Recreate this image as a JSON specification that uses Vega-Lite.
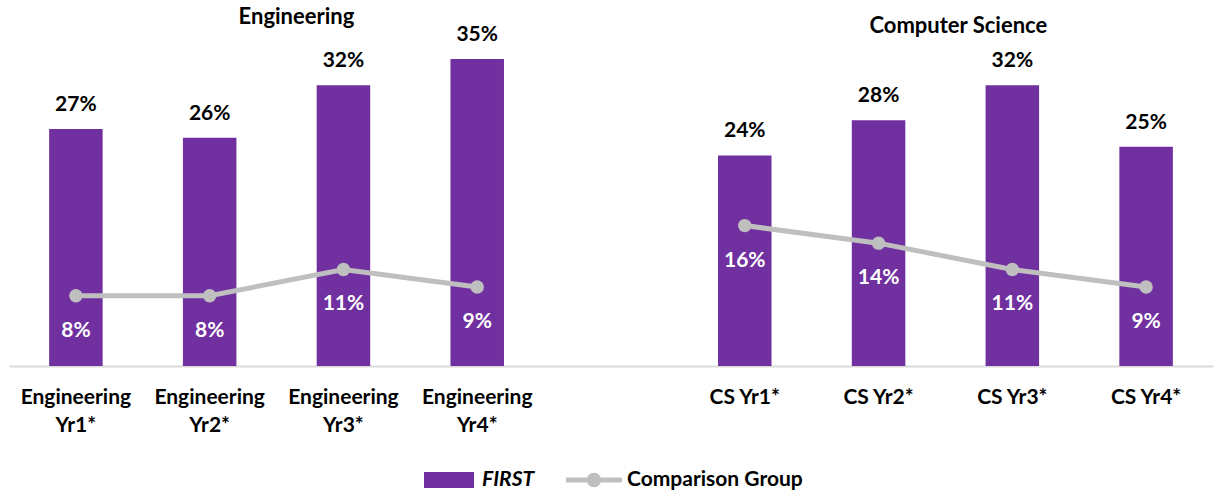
{
  "$schema": "https://vega.github.io/schema/vega-lite/v6.json",
  "width": 1204,
  "height": 351,
  "autosize": "none",
  "padding": {"left": 9, "top": 15, "right": 2, "bottom": 126},
  "config": {"font": "Lato", "view": {"stroke": null}},
  "data": {
    "values": [
      {"cat": "Engineering Yr1*", "group": "Engineering", "first": 0.27, "comp": 0.08},
      {"cat": "Engineering Yr2*", "group": "Engineering", "first": 0.26, "comp": 0.08},
      {"cat": "Engineering Yr3*", "group": "Engineering", "first": 0.32, "comp": 0.11},
      {"cat": "Engineering Yr4*", "group": "Engineering", "first": 0.35, "comp": 0.09},
      {"cat": "CS Yr1*", "group": "Computer Science", "first": 0.24, "comp": 0.16},
      {"cat": "CS Yr2*", "group": "Computer Science", "first": 0.28, "comp": 0.14},
      {"cat": "CS Yr3*", "group": "Computer Science", "first": 0.32, "comp": 0.11},
      {"cat": "CS Yr4*", "group": "Computer Science", "first": 0.25, "comp": 0.09}
    ]
  },
  "encoding": {
    "x": {
      "field": "cat",
      "type": "ordinal",
      "scale": {
        "domain": ["Engineering Yr1*", "Engineering Yr2*", "Engineering Yr3*", "Engineering Yr4*", "gap", "CS Yr1*", "CS Yr2*", "CS Yr3*", "CS Yr4*"],
        "paddingInner": 0.6,
        "paddingOuter": 0.3
      },
      "axis": {
        "title": null,
        "domainColor": "#D9D9D9",
        "domainWidth": 2,
        "ticks": false,
        "labelAngle": 0,
        "labelFont": "Lato",
        "labelFontSize": 21,
        "labelFontWeight": "bold",
        "labelColor": "black",
        "labelPadding": 20,
        "labelLineHeight": 28,
        "labelBaseline": "top",
        "labelLimit": 300,
        "labelExpr": "datum.value == 'gap' ? '' : (indexof(datum.value, 'Engineering ') == 0 ? split(datum.value, ' ') : datum.value)"
      }
    }
  },
  "layer": [
    {
      "mark": {"type": "bar"},
      "encoding": {
        "y": {"field": "first", "type": "quantitative", "scale": {"domain": [0, 0.4]}, "axis": null},
        "color": {
          "datum": "FIRST",
          "type": "nominal",
          "scale": {"domain": ["FIRST", "Comparison Group"], "range": ["#7030A0", "#BFBFBF"]},
          "legend": {
            "title": null,
            "orient": "none",
            "legendX": 415,
            "legendY": 440,
            "direction": "horizontal",
            "symbolSize": 2500,
            "symbolStrokeWidth": 0,
            "labelFont": "Lato",
            "labelFontSize": 21,
            "labelFontWeight": "bold",
            "labelColor": "black",
            "labelOffset": 8,
            "labelLimit": 400,
            "columnPadding": 30,
            "padding": 0,
            "encode": {
              "symbols": {
                "update": {
                  "shape": {"signal": "datum.value === 'FIRST' ? 'M-1,-0.32H1V0.32H-1Z' : 'M-1.12,-0.1H1.12V0.1H-1.12Z M-0.29,0 A0.29,0.29 0 1,1 0.29,0 A0.29,0.29 0 1,1 -0.29,0 Z'"},
                  "fill": {"signal": "scale('color', datum.value)"},
                  "opacity": {"value": 1}
                }
              },
              "labels": {
                "update": {
                  "fontStyle": {"signal": "datum.value === 'FIRST' ? 'italic' : 'normal'"}
                }
              }
            }
          }
        }
      }
    },
    {
      "mark": {"type": "text", "font": "Lato", "fontSize": 21, "fontWeight": "bold", "color": "black", "baseline": "alphabetic", "dy": -18},
      "encoding": {
        "y": {"field": "first", "type": "quantitative"},
        "text": {"field": "first", "type": "quantitative", "format": ".0%"}
      }
    },
    {
      "mark": {"type": "line", "color": "#BFBFBF", "strokeWidth": 5},
      "encoding": {
        "y": {"field": "comp", "type": "quantitative"},
        "detail": {"field": "group"}
      }
    },
    {
      "mark": {"type": "point", "filled": true, "color": "#BFBFBF", "opacity": 1, "size": 180},
      "encoding": {
        "y": {"field": "comp", "type": "quantitative"}
      }
    },
    {
      "mark": {"type": "text", "font": "Lato", "fontSize": 21, "fontWeight": "bold", "color": "white", "baseline": "alphabetic", "dy": 41},
      "encoding": {
        "y": {"field": "comp", "type": "quantitative"},
        "text": {"field": "comp", "type": "quantitative", "format": ".0%"}
      }
    },
    {
      "data": {"values": [{"title": "Engineering", "anchor": "Engineering Yr3*"}]},
      "mark": {"type": "text", "font": "Lato", "fontSize": 22, "fontWeight": "bold", "color": "black", "baseline": "alphabetic", "dy": 9, "dx": -47},
      "encoding": {
        "x": {"field": "anchor", "type": "ordinal"},
        "y": {"datum": 0.4, "type": "quantitative"},
        "text": {"field": "title"}
      }
    },
    {
      "data": {"values": [{"title": "Computer Science", "anchor": "CS Yr3*"}]},
      "mark": {"type": "text", "font": "Lato", "fontSize": 22, "fontWeight": "bold", "color": "black", "baseline": "alphabetic", "dy": 18, "dx": -54},
      "encoding": {
        "x": {"field": "anchor", "type": "ordinal"},
        "y": {"datum": 0.4, "type": "quantitative"},
        "text": {"field": "title"}
      }
    }
  ]
}
